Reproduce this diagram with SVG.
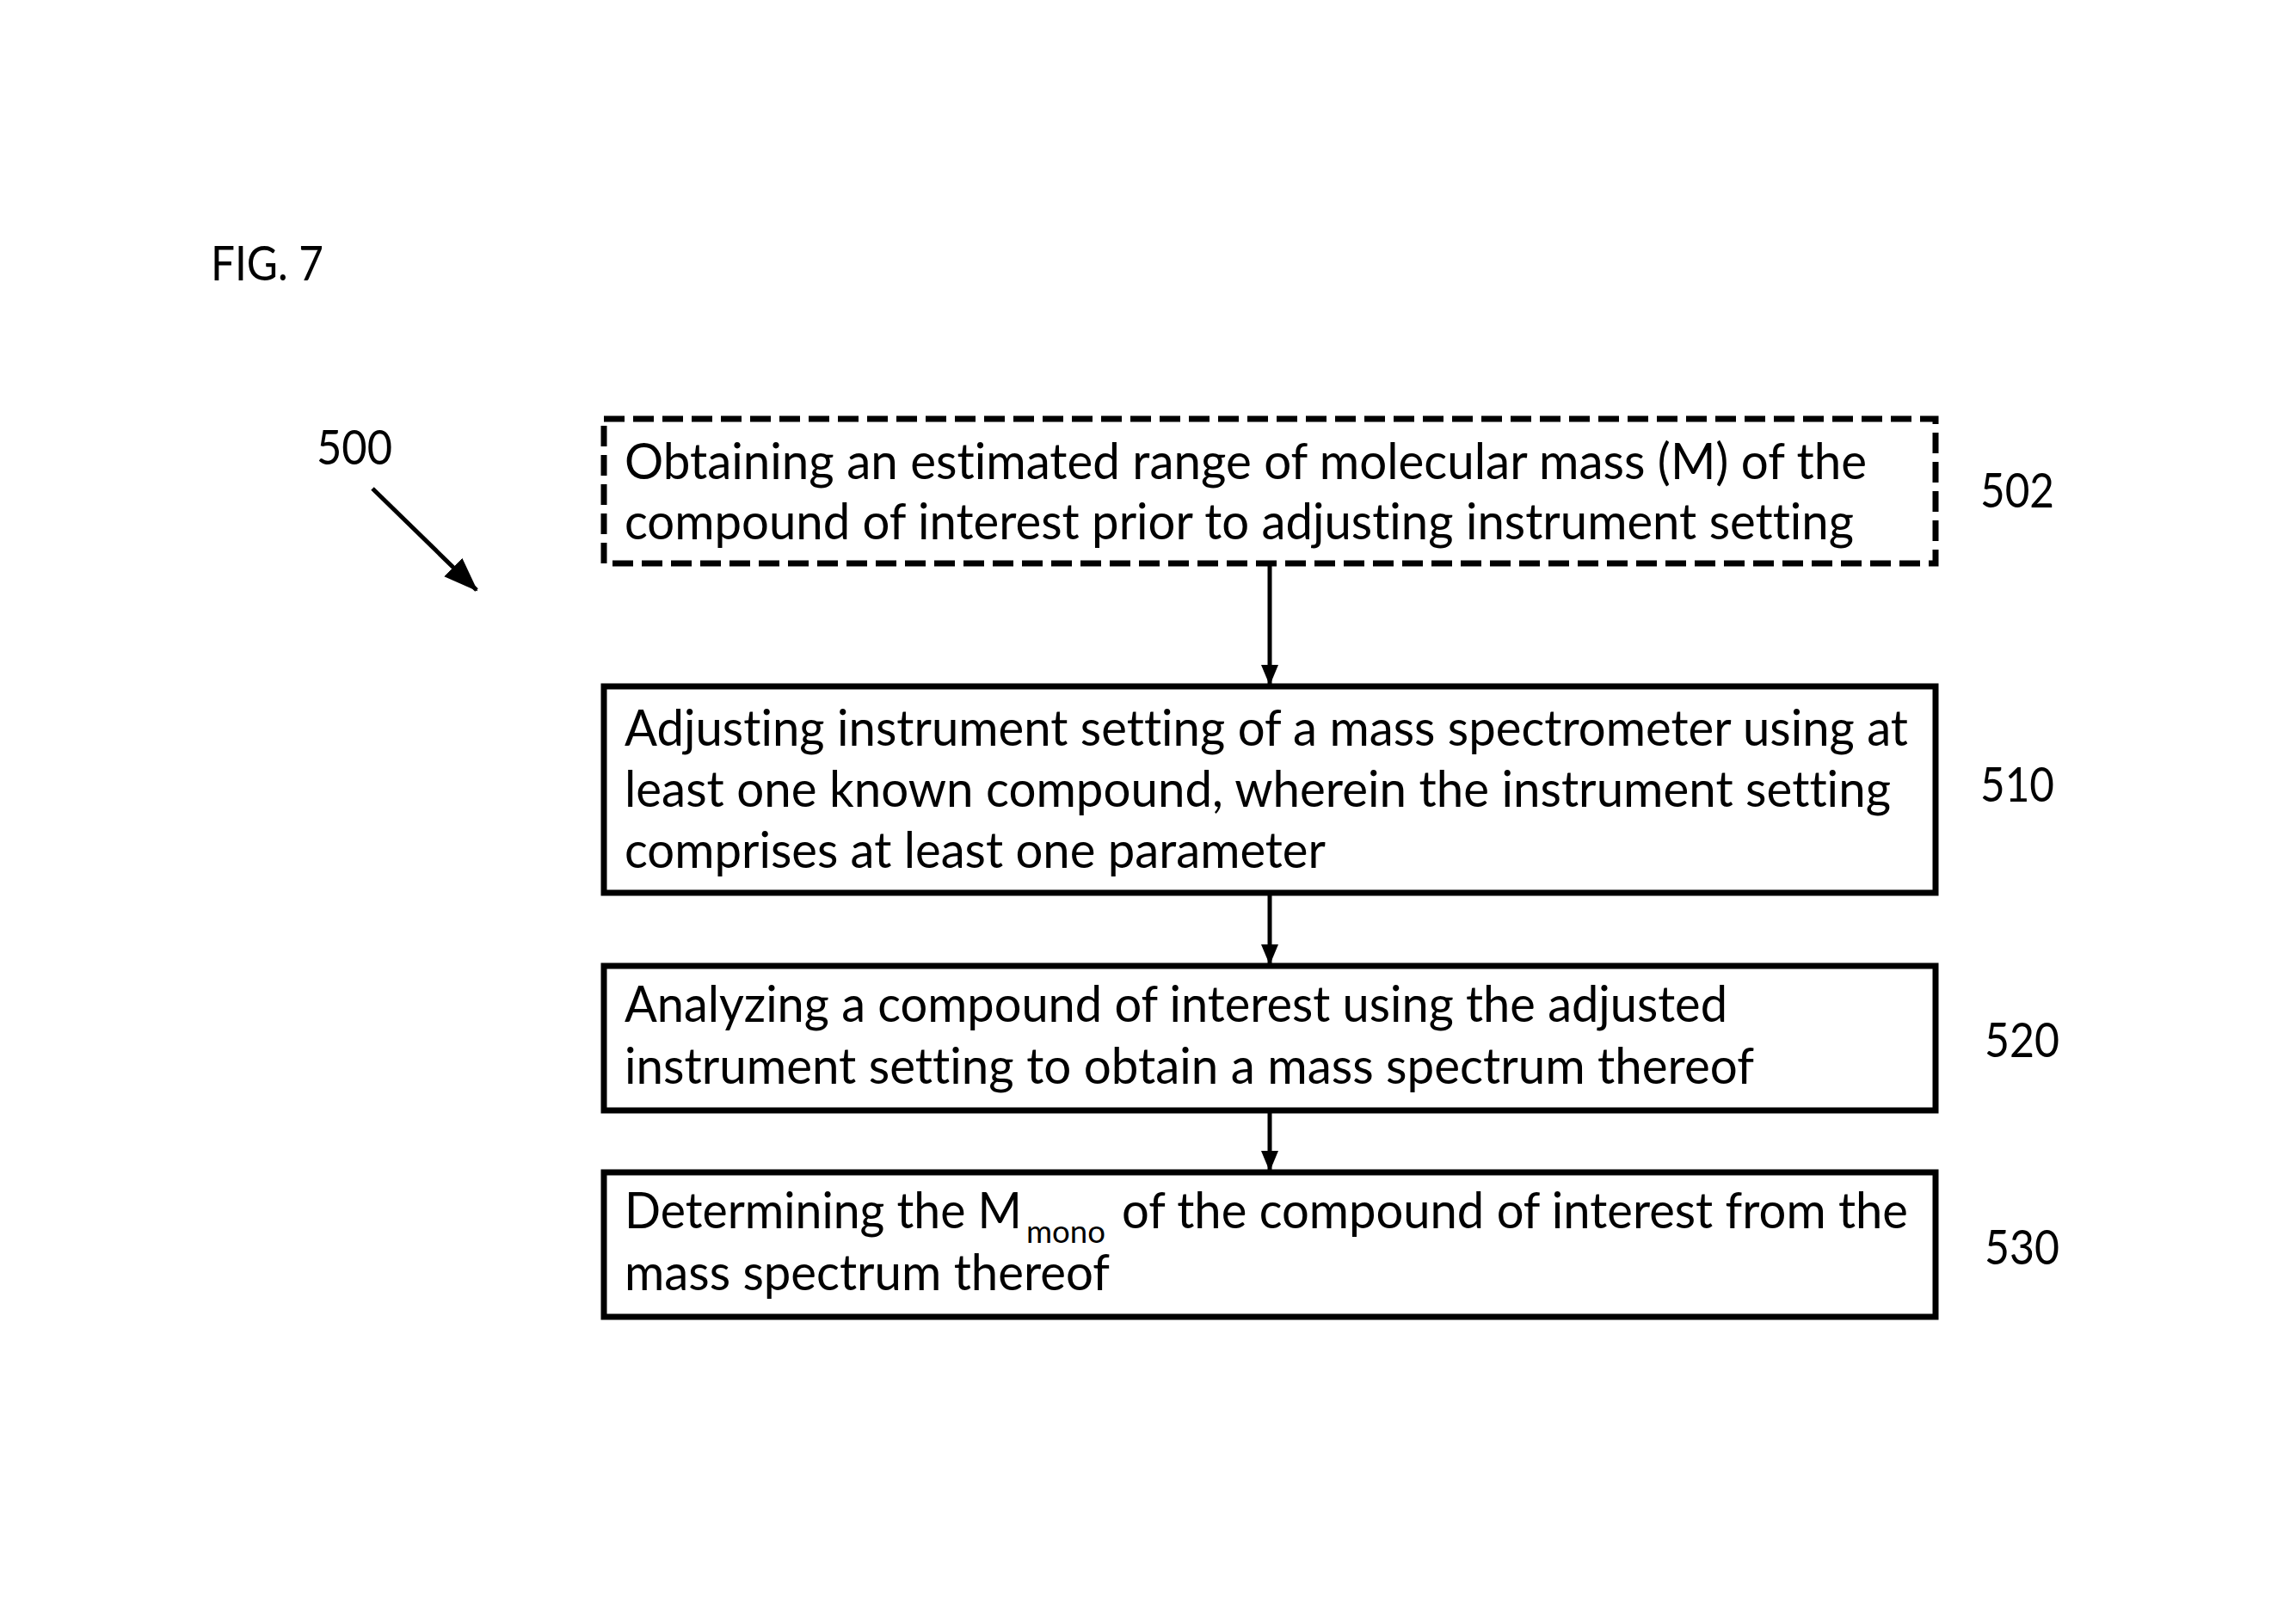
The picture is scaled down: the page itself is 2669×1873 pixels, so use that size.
<svg xmlns="http://www.w3.org/2000/svg" width="2669" height="1873" viewBox="0 0 2669 1873">
<style>
.box{fill:#fff;stroke:#000;stroke-width:7}
.dash{stroke-dasharray:24 10}
.t{font-family:Lato,"Open Sans","Liberation Sans",sans-serif;font-size:58px;fill:#000;font-variant-ligatures:none}
.lbl{font-family:Lato,"Open Sans","Liberation Sans",sans-serif;font-size:56px;fill:#000}
.sub{font-size:36px}
.conn{stroke:#000;stroke-width:5;fill:none}
</style>
<defs>
<marker id="ah" markerUnits="userSpaceOnUse" markerWidth="24" markerHeight="24" viewBox="0 0 24 24" refX="22" refY="12" orient="auto">
<path d="M0,2 L24,12 L0,22 Z" fill="#000"/>
</marker>
<marker id="ah2" markerUnits="userSpaceOnUse" markerWidth="40" markerHeight="34" viewBox="0 0 40 34" refX="38" refY="17" orient="auto">
<path d="M0,2 L40,17 L0,32 Z" fill="#000"/>
</marker>
</defs>
<rect width="2669" height="1873" fill="#fff"/>
<text class="lbl" x="245" y="326" textLength="131" lengthAdjust="spacingAndGlyphs">FIG. 7</text>
<g id="ref500">
<text class="lbl" x="368" y="540" textLength="88" lengthAdjust="spacingAndGlyphs">500</text>
</g>
<g id="connectors">
<line class="conn" x1="433" y1="568" x2="554" y2="686" stroke-width="7" marker-end="url(#ah2)"/>
<line class="conn" x1="1476" y1="656" x2="1476" y2="795" marker-end="url(#ah)"/>
<line class="conn" x1="1476" y1="1040" x2="1476" y2="1120" marker-end="url(#ah)"/>
<line class="conn" x1="1476" y1="1293" x2="1476" y2="1360" marker-end="url(#ah)"/>
</g>
<g id="n502">
<rect class="box dash" x="702" y="487" width="1548" height="168"/>
<text class="t" x="726" y="557" textLength="1444" lengthAdjust="spacingAndGlyphs">Obtaining an estimated range of molecular mass (M) of the</text>
<text class="t" x="726" y="627" textLength="1429" lengthAdjust="spacingAndGlyphs">compound of interest prior to adjusting instrument setting</text>
<text class="lbl" x="2302" y="590" textLength="86" lengthAdjust="spacingAndGlyphs">502</text>
</g>
<g id="n510">
<rect class="box" x="702" y="798" width="1548" height="240"/>
<text class="t" x="726" y="867" textLength="1492" lengthAdjust="spacingAndGlyphs">Adjusting instrument setting of a mass spectrometer using at</text>
<text class="t" x="726" y="938" textLength="1472" lengthAdjust="spacingAndGlyphs">least one known compound, wherein the instrument setting</text>
<text class="t" x="726" y="1009" textLength="815" lengthAdjust="spacingAndGlyphs">comprises at least one parameter</text>
<text class="lbl" x="2302" y="932" textLength="86" lengthAdjust="spacingAndGlyphs">510</text>
</g>
<g id="n520">
<rect class="box" x="702" y="1123" width="1548" height="168"/>
<text class="t" x="726" y="1188" textLength="1282" lengthAdjust="spacingAndGlyphs">Analyzing a compound of interest using the adjusted</text>
<text class="t" x="726" y="1260" textLength="1313" lengthAdjust="spacingAndGlyphs">instrument setting to obtain a mass spectrum thereof</text>
<text class="lbl" x="2307" y="1229" textLength="87" lengthAdjust="spacingAndGlyphs">520</text>
</g>
<g id="n530">
<rect class="box" x="702" y="1363" width="1548" height="168"/>
<text class="t" x="726" y="1428" textLength="462" lengthAdjust="spacingAndGlyphs">Determining the M</text>
<text class="t sub" x="1193" y="1445" textLength="92" lengthAdjust="spacingAndGlyphs">mono</text>
<text class="t" x="1304" y="1428" textLength="914" lengthAdjust="spacingAndGlyphs">of the compound of interest from the</text>
<text class="t" x="726" y="1500" textLength="564" lengthAdjust="spacingAndGlyphs">mass spectrum thereof</text>
<text class="lbl" x="2307" y="1470" textLength="87" lengthAdjust="spacingAndGlyphs">530</text>
</g>
</svg>
